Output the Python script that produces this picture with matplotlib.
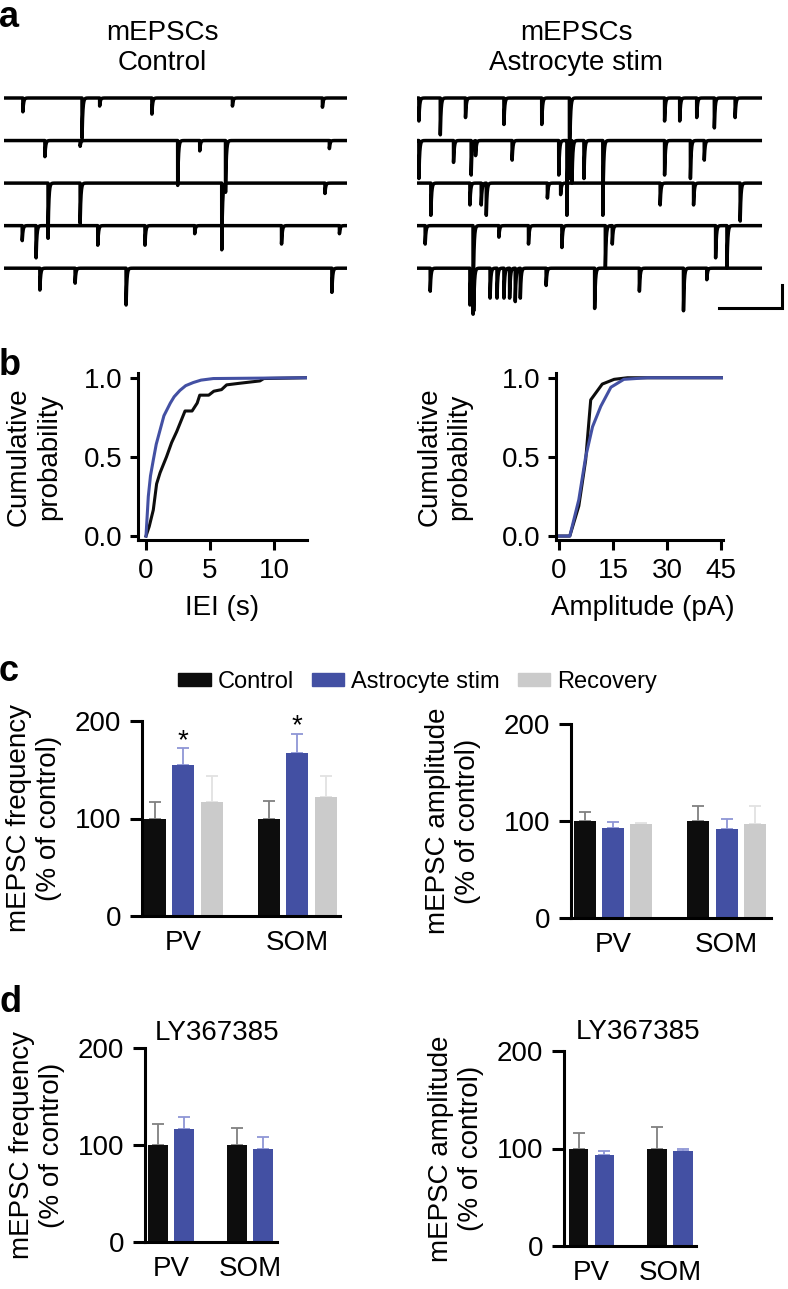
import numpy as np
import matplotlib.pyplot as plt
from matplotlib.patches import Patch

plt.rcParams['font.family'] = ['Liberation Sans', 'DejaVu Sans']
plt.rcParams['font.size'] = 20

W, H = 788, 1289

# ---- panel a: detected mEPSC events per sweep, (time s, amplitude pA)
control_events = [
    [(0.30, 12), (1.24, 35), (1.52, 7), (2.35, 14), (3.63, 7), (5.06, 8)],
    [(0.65, 14), (1.21, 5), (2.76, 39), (3.11, 9), (3.52, 45), (5.17, 7)],
    [(0.70, 48), (1.21, 35), (3.46, 58), (5.10, 9)],
    [(0.29, 13), (0.51, 28), (1.49, 17), (2.24, 17), (3.03, 7), (4.41, 16), (5.33, 7)],
    [(0.57, 19), (1.13, 13), (1.94, 32), (5.21, 21)],
]
astro_events = [
    [(0.03, 20), (0.37, 32), (0.77, 17), (1.38, 23), (1.98, 23), (2.42, 70),
     (3.93, 20), (4.17, 20), (4.44, 17), (4.72, 26), (5.05, 17)],
    [(0.03, 33), (0.58, 19), (0.86, 30), (0.93, 13), (1.51, 17), (2.25, 30),
     (2.38, 65), (2.46, 37), (2.65, 33), (2.95, 65), (3.93, 30), (4.34, 33), (4.56, 17)],
    [(0.22, 28), (0.84, 19), (1.02, 19), (1.10, 28), (2.07, 13), (2.28, 10),
     (3.86, 19), (4.39, 19), (5.13, 33)],
    [(0.13, 16), (0.89, 77), (1.30, 10), (1.77, 16), (2.30, 19), (2.99, 37),
     (3.10, 16), (4.74, 28), (4.92, 37)],
    [(0.21, 20), (0.84, 32), (0.90, 37), (1.16, 26), (1.27, 26), (1.38, 26),
     (1.47, 26), (1.56, 29), (1.64, 26), (2.05, 15), (2.82, 35), (3.53, 20),
     (4.23, 37), (4.60, 10)],
]
SWEEP_LEN = 5.45   # s
TAU = 0.012        # decay, s

# ---- panel b: cumulative distributions
iei_ctrl_x = [0, 0.25, 0.57, 0.83, 1.1, 1.6, 2.0, 2.4, 2.8, 3.05, 3.6, 4.0, 4.2, 4.9,
              5.3, 5.9, 6.3, 7.3, 8.9, 9.2, 12.5]
iei_ctrl_y = [0, 0.06, 0.165, 0.33, 0.40, 0.50, 0.59, 0.66, 0.74, 0.79, 0.79, 0.84,
              0.89, 0.89, 0.915, 0.925, 0.955, 0.965, 0.98, 0.995, 1.0]
iei_astro_x = [0, 0.18, 0.35, 0.57, 0.8, 1.1, 1.4, 1.9, 2.2, 2.65, 3.1, 3.7, 4.3, 5.26, 12.5]
iei_astro_y = [0, 0.25, 0.38, 0.48, 0.58, 0.67, 0.76, 0.84, 0.88, 0.92, 0.95, 0.97,
               0.985, 0.995, 1.0]
amp_ctrl_x = [0, 3.0, 5.5, 7.4, 8.8, 12.0, 15.3, 19, 45.4]
amp_ctrl_y = [0, 0, 0.19, 0.48, 0.86, 0.96, 0.99, 1.0, 1.0]
amp_astro_x = [0, 3.0, 5.5, 7.4, 9.3, 11.6, 14.4, 18, 24.5, 45.4]
amp_astro_y = [0, 0, 0.23, 0.5, 0.69, 0.82, 0.94, 0.99, 1.0, 1.0]

# ---- panels c, d: % of control, mean and upper SEM
cell_types = ['PV', 'SOM']
c_freq_ctrl, c_freq_ctrl_err = [100, 100], [17, 18]
c_freq_astro, c_freq_astro_err = [155, 167], [17, 20]
c_freq_rec, c_freq_rec_err = [117, 122], [27, 22]
c_amp_ctrl, c_amp_ctrl_err = [100, 100], [9.5, 15.5]
c_amp_astro, c_amp_astro_err = [93, 92], [6, 10]
c_amp_rec, c_amp_rec_err = [96.5, 96.5], [1.5, 18.5]
d_freq_ctrl, d_freq_ctrl_err = [100, 100], [22, 18]
d_freq_astro, d_freq_astro_err = [116.5, 95.5], [12.5, 12.5]
d_amp_ctrl, d_amp_ctrl_err = [100, 100], [16, 22]
d_amp_astro, d_amp_astro_err = [93.5, 97], [3.5, 2]
signif_c_freq = [True, True]

BLACK = '#0d0d0d'
BLUE = '#4350a3'
GRAY = '#cbcbcb'
ERR = {BLACK: '#808080', BLUE: '#8f96d6', GRAY: '#e2e2e2'}
LW = 2.2


def rect(l, t, r, b):
    return [l / W, 1 - b / H, (r - l) / W, (b - t) / H]


def style(ax):
    for s in ['top', 'right']:
        ax.spines[s].set_visible(False)
    for s in ['left', 'bottom']:
        ax.spines[s].set_linewidth(LW)
    ax.tick_params(width=LW, length=7, labelsize=20)


def sweep(events, t):
    y = np.zeros_like(t)
    for t0, amp in events:
        m = t >= t0
        y[m] -= amp * np.exp(-(t[m] - t0) / TAU)
    return y


fig = plt.figure(figsize=(W / 100, H / 100), dpi=100)

# panel a
t = np.arange(0, SWEEP_LEN, 0.001)
row_gap = 37
ylim_a = (15.65 - 240 / 1.15, 15.65)
ax_l = fig.add_axes(rect(4, 80, 347, 320))
ax_r = fig.add_axes(rect(417, 80, 795, 320))
for ax, evs, tmax in [(ax_l, control_events, SWEEP_LEN), (ax_r, astro_events, 6.0)]:
    for i, ev in enumerate(evs):
        ax.plot(t, sweep(ev, t) - i * row_gap, color='black', lw=2.5)
    ax.set_xlim(0, tmax)
    ax.set_ylim(*ylim_a)
    ax.axis('off')
# scale bar: 1 s, 20 pA
sb_t, sb_y = 4.79, -182.6
ax_r.plot([sb_t, sb_t + 1.0, sb_t + 1.0], [sb_y, sb_y, sb_y + 20], color='black',
          lw=LW, solid_joinstyle='miter', clip_on=False)
fig.text(162 / W, 1 - 70 / H, 'mEPSCs\nControl', ha='center', va='baseline', fontsize=20)
fig.text(576 / W, 1 - 70 / H, 'mEPSCs\nAstrocyte stim', ha='center', va='baseline',
         fontsize=20)

# panel b
axb1 = fig.add_axes(rect(138, 373, 307, 540))
axb1.plot(iei_ctrl_x, iei_ctrl_y, color=BLACK, lw=LW)
axb1.plot(iei_astro_x, iei_astro_y, color=BLUE, lw=LW)
axb1.set_xlim(-0.625, 12.58)
axb1.set_xticks([0, 5, 10])
axb1.set_xlabel('IEI (s)')
axb2 = fig.add_axes(rect(556, 373, 723, 540))
axb2.plot(amp_ctrl_x, amp_ctrl_y, color=BLACK, lw=LW)
axb2.plot(amp_astro_x, amp_astro_y, color=BLUE, lw=LW)
axb2.set_xlim(-0.83, 45.5)
axb2.set_xticks([0, 15, 30, 45])
axb2.set_xlabel('Amplitude (pA)')
for ax, lx in [(axb1, -0.45), (axb2, -0.50)]:
    style(ax)
    ax.set_ylim(-0.025, 1.03)
    ax.set_yticks([0, 0.5, 1.0])
    ax.set_yticklabels(['0.0', '0.5', '1.0'])
    ax.tick_params(axis='y', length=6, pad=5)
    ax.tick_params(axis='x', pad=6)
    ax.set_ylabel('Cumulative\nprobability')
    ax.yaxis.set_label_coords(lx, 0.5)
    ax.xaxis.set_label_coords(0.52 if ax is axb2 else 0.5, -0.33)


def bars(ax, offsets, width, series):
    x = np.arange(len(cell_types))
    for off, (vals, errs, col) in zip(offsets, series):
        ax.bar(x + off, vals, width, color=col, zorder=2)
        ax.errorbar(x + off, vals, yerr=[np.zeros(len(errs)), errs], fmt='none',
                    ecolor=ERR[col], elinewidth=1.3, capsize=4, capthick=1.3, zorder=1)
    ax.set_xticks(x)
    ax.set_xticklabels(cell_types)
    ax.set_ylim(0, 200)
    ax.set_yticks([0, 100, 200])
    style(ax)
    ax.tick_params(axis='x', length=0, pad=10)
    ax.tick_params(axis='y', length=9, pad=6)


# panel c
off3, w3 = [-0.25, 0, 0.25], 0.193
axc1 = fig.add_axes(rect(142, 721, 340, 916))
bars(axc1, off3, w3, [(c_freq_ctrl, c_freq_ctrl_err, BLACK),
                      (c_freq_astro, c_freq_astro_err, BLUE),
                      (c_freq_rec, c_freq_rec_err, GRAY)])
axc1.set_xlim(-0.36, 1.377)
for i, sig in enumerate(signif_c_freq):
    if sig:
        axc1.text(i, c_freq_astro[i] + c_freq_astro_err[i], '*', ha='center',
                  va='baseline', fontsize=20)
axc1.set_ylabel('mEPSC frequency\n(% of control)')
axc1.yaxis.set_label_coords(-0.404, 0.5)

axc2 = fig.add_axes(rect(571, 724, 771, 918))
bars(axc2, off3, w3, [(c_amp_ctrl, c_amp_ctrl_err, BLACK),
                      (c_amp_astro, c_amp_astro_err, BLUE),
                      (c_amp_rec, c_amp_rec_err, GRAY)])
axc2.set_xlim(-0.37, 1.39)
axc2.set_ylabel('mEPSC amplitude\n(% of control)')
axc2.yaxis.set_label_coords(-0.45, 0.5)

handles = [Patch(color=BLACK, label='Control'), Patch(color=BLUE, label='Astrocyte stim'),
           Patch(color=GRAY, label='Recovery')]
fig.legend(handles=handles, loc='center', bbox_to_anchor=(417.5 / W, 1 - 682 / H),
           ncol=3, frameon=False, fontsize=17, handlelength=1.36, handleheight=0.5,
           handletextpad=0.3, columnspacing=0.76, borderpad=0, borderaxespad=0)

# panel d
off2, w2 = [-0.165, 0.165], 0.253
axd1 = fig.add_axes(rect(145, 1048, 277, 1242))
bars(axd1, off2, w2, [(d_freq_ctrl, d_freq_ctrl_err, BLACK),
                      (d_freq_astro, d_freq_astro_err, BLUE)])
axd1.set_xlim(-0.33, 1.34)
axd1.set_title('LY367385', fontsize=20, x=0.545, pad=5.8)
axd1.set_ylabel('mEPSC frequency\n(% of control)')
axd1.yaxis.set_label_coords(-0.606, 0.5)

axd2 = fig.add_axes(rect(564, 1051, 696, 1246))
bars(axd2, off2, w2, [(d_amp_ctrl, d_amp_ctrl_err, BLACK),
                      (d_amp_astro, d_amp_astro_err, BLUE)])
axd2.set_xlim(-0.35, 1.33)
axd2.set_title('LY367385', fontsize=20, x=0.564, pad=8.6)
axd2.set_ylabel('mEPSC amplitude\n(% of control)')
axd2.yaxis.set_label_coords(-0.606, 0.5)

# panel letters
for letter, base in [('a', 27), ('b', 375), ('c', 681), ('d', 1012)]:
    fig.text(-1 / W, 1 - base / H, letter, fontsize=26, fontweight='bold',
             ha='left', va='baseline')

fig.savefig('out.png', dpi=100)
